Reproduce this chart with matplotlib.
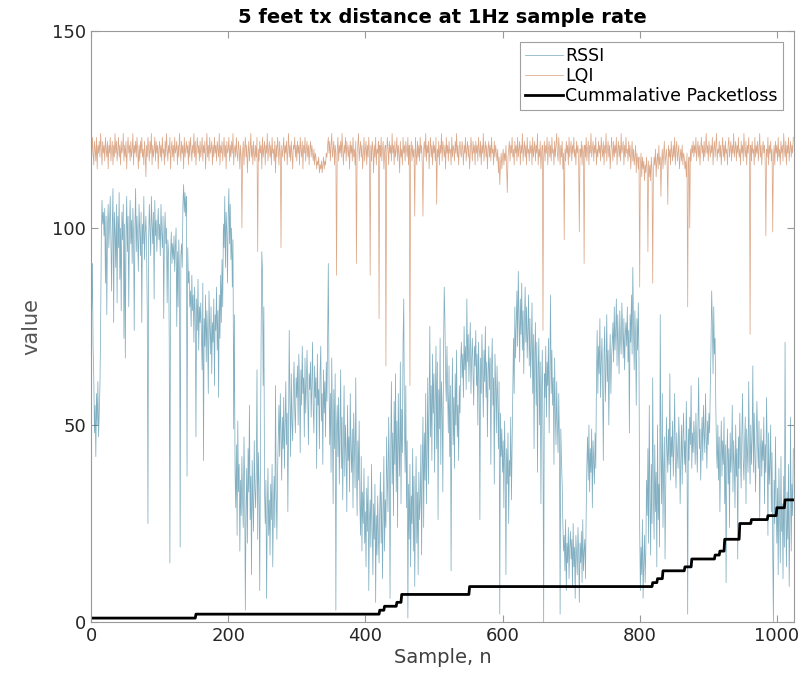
import numpy as np
import matplotlib
matplotlib.use("Agg")
import matplotlib.pyplot as plt

# RSSI per sample (rows of 20 samples)
rssi = [
    88, 79, 91, 70, 62, 48, 55, 42, 58, 50, 61, 47, 53, 60, 75, 97, 107, 101, 104, 98,
    105, 86, 103, 78, 100, 106, 95, 102, 108, 97, 84, 101, 110, 76, 104, 99, 90, 106, 81, 103,
    95, 109, 87, 100, 79, 104, 97, 106, 72, 101, 67, 98, 108, 94, 103, 80, 99, 107, 96, 102,
    91, 105, 98, 74, 100, 110, 94, 103, 97, 89, 106, 99, 93, 104, 76, 101, 96, 108, 92, 99,
    103, 95, 79, 25, 97, 106, 99, 93, 108, 101, 96, 104, 82, 107, 98, 102, 94, 100, 105, 97,
    101, 93, 106, 99, 95, 103, 77, 98, 104, 96, 100, 81, 97, 94, 72, 15, 93, 99, 91, 96,
    92, 98, 89, 95, 100, 75, 94, 80, 97, 88, 19, 93, 96, 90, 106, 111, 104, 109, 103, 108,
    37, 95, 86, 89, 80, 84, 75, 88, 79, 83, 71, 85, 78, 47, 82, 74, 87, 69, 80, 76,
    81, 73, 64, 86, 41, 77, 70, 83, 66, 79, 72, 58, 84, 75, 68, 80, 63, 76, 71, 82,
    60, 78, 74, 85, 69, 79, 57, 83, 72, 88, 76, 92, 80, 101, 95, 108, 90, 104, 99, 86,
    103, 110, 96, 106, 92, 100, 85, 97, 49, 78, 38, 29, 45, 22, 51, 33, 40, 18, 36, 27,
    42, 31, 24, 47, 35, 3, 28, 39, 20, 44, 33, 55, 26, 37, 12, 41, 30, 23, 46, 34,
    29, 38, 64, 21, 43, 35, 8, 40, 72, 94, 89, 60, 80, 33, 25, 36, 6, 28, 39, 22,
    31, 17, 35, 26, 40, 14, 29, 37, 24, 60, 33, 21, 38, 46, 55, 42, 58, 48, 36, 52,
    44, 57, 39, 50, 61, 45, 53, 28, 49, 74, 56, 42, 63, 51, 46, 59, 66, 54, 48, 62,
    57, 65, 50, 68, 60, 43, 64, 55, 70, 58, 62, 47, 67, 53, 61, 69, 56, 45, 63, 59,
    66, 52, 60, 71, 54, 48, 65, 57, 62, 39, 68, 55, 59, 44, 63, 70, 51, 58, 40, 64,
    53, 61, 47, 66, 56, 72, 91, 62, 45, 58, 38, 67, 50, 30, 59, 44, 63, 3, 49, 55,
    42, 57, 35, 48, 64, 39, 52, 31, 46, 60, 37, 50, 43, 28, 55, 41, 47, 33, 58, 44,
    38, 49, 29, 53, 45, 34, 62, 40, 27, 46, 36, 51, 30, 22, 42, 18, 33, 25, 39, 20,
    28, 14, 34, 23, 37, 8, 26, 31, 19, 40, 24, 12, 30, 21, 35, 5, 27, 17, 32, 22,
    15, 29, 38, 20, 33, 11, 26, 42, 18, 31, 24, 47, 36, 28, 52, 39, 6, 44, 61, 35,
    48, 27, 56, 40, 63, 33, 51, 24, 58, 45, 37, 66, 30, 54, 43, 71, 82, 49, 38, 60,
    29, 46, 1, 35, 21, 40, 14, 32, 25, 44, 18, 37, 9, 28, 42, 20, 33, 12, 38, 26,
    31, 45, 17, 39, 52, 24, 48, 36, 58, 30, 43, 62, 35, 55, 75, 47, 60, 41, 68, 53,
    63, 38, 57, 70, 44, 66, 26, 59, 49, 72, 40, 61, 54, 33, 68, 85, 77, 62, 56, 70,
    58, 48, 65, 42, 60, 13, 52, 67, 45, 57, 39, 63, 50, 69, 47, 55, 41, 60, 53, 66,
    71, 62, 68, 57, 75, 64, 70, 59, 82, 66, 73, 61, 69, 76, 58, 67, 72, 63, 55, 70,
    65, 74, 60, 68, 50, 71, 62, 26, 67, 58, 73, 64, 52, 69, 61, 75, 57, 66, 47, 63,
    70, 59, 67, 40, 64, 72, 55, 62, 35, 68, 60, 48, 65, 57, 44, 61, 2, 53, 42, 49,
    38, 46, 29, 51, 40, 12, 44, 35, 48, 25, 41, 37, 52, 31, 45, 60, 72, 58, 80, 67,
    75, 84, 70, 89, 78, 66, 82, 73, 86, 69, 79, 63, 76, 85, 71, 80, 67, 74, 83, 65,
    77, 62, 70, 81, 58, 73, 44, 68, 76, 55, 71, 38, 64, 72, 50, 66, 30, 59, 69, 47,
    0, 63, 57, 70, 52, 66, 60, 72, 48, 64, 83, 58, 69, 55, 62, 40, 67, 53, 45, 61,
    50, 43, 58, 46, 2, 49, 41, 35, 25, 18, 22, 13, 26, 8, 20, 15, 24, 11, 19, 23,
    16, 21, 9, 25, 14, 19, 6, 22, 17, 12, 24, 18, 5, 20, 15, 23, 10, 26, 13, 18,
    21, 11, 28, 40, 47, 36, 50, 33, 44, 38, 49, 29, 46, 41, 35, 48, 39, 62, 74, 58,
    70, 63, 77, 57, 66, 72, 60, 41, 68, 75, 56, 64, 78, 61, 69, 50, 65, 73, 58, 67,
    71, 76, 66, 80, 69, 74, 82, 65, 78, 70, 63, 79, 72, 68, 81, 75, 67, 77, 64, 73,
    76, 70, 80, 66, 74, 48, 78, 71, 83, 68, 90, 75, 64, 79, 72, 55, 77, 69, 81, 67,
    24, 8, 19, 12, 26, 6, 15, 22, 10, 18, 36, 27, 44, 20, 55, 31, 17, 40, 25, 62,
    33, 21, 45, 28, 38, 14, 50, 26, 35, 19, 78, 42, 30, 58, 24, 39, 47, 16, 34, 52,
    44, 38, 49, 40, 63, 36, 47, 42, 51, 37, 45, 58, 41, 34, 48, 43, 39, 52, 46, 30,
    42, 50, 35, 47, 53, 40, 46, 38, 56, 44, 2, 49, 41, 52, 45, 60, 39, 48, 43, 51,
    47, 40, 53, 45, 38, 50, 62, 44, 49, 36, 46, 52, 41, 55, 48, 43, 58, 47, 39, 51,
    45, 53, 48, 60, 70, 84, 76, 63, 80, 68, 72, 55, 44, 39, 50, 36, 47, 28, 42, 51,
    37, 46, 40, 52, 30, 45, 10, 41, 49, 35, 44, 24, 48, 38, 43, 55, 33, 46, 40, 29,
    50, 37, 44, 16, 47, 39, 53, 42, 34, 48, 58, 41, 36, 45, 52, 30, 49, 43, 38, 61,
    44, 35, 50, 40, 47, 65, 38, 53, 42, 33, 48, 56, 45, 39, 51, 26, 43, 49, 37, 46,
    41, 52, 30, 45, 38, 57, 44, 22, 48, 35, 40, 50, 28, 43, 18, 0, 36, 25, 47, 31,
    20, 34, 12, 39, 26, 15, 42, 23, 30, 11, 37, 19, 71, 28, 14, 33, 21, 40, 9, 25,
    52, 18, 35, 27, 44,
]

# LQI per sample (rows of 20 samples)
lqi = [
    121, 118, 123, 119, 116, 122, 120, 117, 123, 115, 121, 119, 122, 118, 124, 120, 116, 122, 119, 121,
    117, 123, 120, 118, 122, 115, 121, 119, 123, 117, 120, 122, 116, 121, 118, 124, 119, 122, 117, 120,
    123, 118, 121, 116, 122, 119, 120, 124, 117, 121, 118, 122, 115, 120, 123, 119, 121, 117, 122, 118,
    120, 124, 116, 121, 119, 122, 118, 123, 120, 115, 121, 117, 122, 119, 123, 118, 120, 116, 122, 119,
    113, 121, 118, 123, 120, 117, 122, 119, 124, 116, 121, 118, 120, 123, 117, 122, 119, 121, 115, 120,
    122, 118, 121, 117, 123, 119, 120, 116, 122, 118, 124, 120, 117, 121, 119, 123, 115, 120, 122, 118,
    121, 117, 123, 119, 120, 122, 116, 121, 118, 124, 120, 117, 122, 119, 121, 115, 123, 118, 120, 122,
    119, 121, 116, 122, 118, 123, 120, 117, 121, 119, 124, 118, 122, 116, 120, 123, 119, 121, 117, 122,
    118, 120, 123, 117, 121, 119, 122, 115, 120, 124, 118, 121, 117, 123, 119, 120, 122, 116, 121, 118,
    123, 119, 121, 117, 122, 120, 118, 124, 116, 121, 119, 122, 117, 120, 123, 118, 121, 115, 122, 119,
    120, 123, 117, 121, 118, 122, 119, 124, 116, 120, 121, 118, 123, 119, 117, 122, 120, 115, 121, 118,
    100, 119, 122, 116, 120, 123, 118, 121, 114, 119, 122, 117, 120, 124, 118, 121, 116, 122, 119, 117,
    121, 118, 123, 94, 120, 117, 122, 119, 121, 115, 123, 118, 120, 122, 116, 121, 119, 124, 117, 120,
    122, 118, 121, 116, 123, 119, 120, 117, 122, 114, 121, 118, 123, 120, 116, 122, 119, 95, 121, 118,
    120, 123, 117, 121, 119, 122, 116, 120, 124, 118, 121, 117, 122, 119, 115, 121, 120, 123, 118, 121,
    117, 122, 119, 121, 116, 123, 120, 118, 122, 115, 121, 119, 123, 117, 120, 122, 118, 121, 116, 120,
    122, 118, 121, 119, 117, 120, 116, 119, 118, 115, 117, 116, 118, 114, 116, 115, 117, 114, 116, 118,
    115, 117, 116, 119, 118, 121, 123, 119, 122, 117, 121, 124, 118, 120, 122, 116, 121, 119, 88, 120,
    123, 117, 121, 119, 122, 118, 124, 120, 116, 121, 119, 123, 117, 122, 120, 118, 121, 115, 122, 119,
    121, 117, 123, 118, 120, 116, 122, 91, 119, 121, 124, 117, 120, 122, 118, 121, 115, 119, 123, 117,
    120, 122, 116, 121, 118, 123, 119, 88, 121, 117, 122, 120, 114, 121, 118, 123, 116, 120, 119, 122,
    77, 121, 118, 123, 117, 120, 122, 115, 119, 121, 65, 118, 123, 120, 116, 122, 119, 121, 117, 124,
    119, 121, 116, 122, 118, 120, 123, 117, 121, 119, 114, 122, 118, 120, 116, 123, 119, 121, 117, 122,
    120, 118, 123, 116, 121, 60, 119, 122, 117, 121, 118, 120, 103, 123, 119, 116, 122, 118, 121, 117,
    123, 119, 121, 116, 103, 120, 122, 118, 124, 117, 121, 119, 122, 115, 120, 123, 118, 121, 116, 122,
    119, 121, 117, 123, 106, 120, 118, 122, 116, 121, 119, 124, 117, 122, 120, 118, 121, 115, 123, 119,
    121, 117, 122, 119, 120, 116, 123, 118, 121, 120, 117, 122, 119, 124, 118, 121, 116, 120, 122, 119,
    118, 122, 120, 116, 121, 119, 123, 117, 120, 122, 118, 121, 115, 119, 123, 120, 117, 122, 119, 121,
    116, 122, 119, 121, 117, 123, 120, 118, 122, 116, 121, 119, 124, 117, 120, 122, 118, 121, 115, 120,
    122, 118, 121, 117, 123, 119, 120, 116, 122, 118, 121, 119, 117, 120, 114, 118, 111, 116, 119, 115,
    118, 120, 116, 119, 117, 121, 115, 109, 118, 120, 122, 117, 121, 119, 123, 118, 120, 116, 122, 119,
    121, 117, 123, 118, 120, 122, 116, 121, 119, 124, 117, 120, 122, 118, 121, 116, 123, 119, 120, 117,
    122, 119, 121, 116, 123, 118, 120, 122, 117, 121, 119, 124, 116, 120, 118, 122, 115, 119, 121, 74,
    118, 122, 117, 121, 119, 123, 116, 120, 122, 118, 121, 117, 123, 119, 120, 116, 122, 118, 121, 124,
    119, 117, 123, 120, 116, 121, 118, 122, 115, 119, 97, 120, 117, 122, 119, 121, 116, 123, 118, 120,
    122, 117, 121, 119, 123, 118, 120, 116, 122, 119, 121, 117, 99, 120, 118, 122, 116, 121, 119, 91,
    121, 118, 123, 117, 120, 122, 116, 121, 119, 124, 118, 120, 122, 117, 121, 119, 123, 116, 120, 118,
    122, 119, 121, 117, 123, 120, 118, 122, 116, 121, 119, 124, 117, 120, 122, 118, 121, 115, 119, 123,
    120, 117, 122, 118, 121, 119, 123, 116, 120, 122, 118, 121, 117, 124, 119, 120, 122, 116, 121, 118,
    123, 119, 120, 117, 122, 118, 121, 115, 119, 122, 117, 120, 116, 118, 121, 114, 119, 117, 115, 118,
    85, 116, 119, 113, 118, 115, 117, 112, 116, 114, 118, 115, 94, 117, 113, 116, 112, 118, 115, 86,
    114, 118, 116, 120, 113, 117, 119, 115, 121, 116, 118, 108, 117, 120, 115, 119, 122, 116, 118, 120,
    117, 106, 121, 118, 120, 116, 122, 119, 117, 121, 118, 123, 116, 120, 122, 117, 119, 121, 115, 118,
    120, 117, 121, 116, 119, 118, 115, 117, 113, 119, 80, 116, 118, 100, 120, 117, 121, 119, 122, 118,
    121, 119, 123, 117, 120, 122, 118, 121, 116, 120, 123, 119, 121, 117, 122, 118, 120, 124, 119, 121,
    117, 122, 120, 118, 121, 119, 123, 116, 120, 122, 118, 121, 124, 117, 120, 119, 122, 118, 121, 116,
    120, 123, 118, 121, 117, 122, 119, 120, 116, 121, 123, 118, 120, 122, 117, 121, 119, 124, 118, 120,
    122, 117, 121, 119, 123, 118, 120, 116, 122, 119, 121, 117, 124, 120, 118, 122, 116, 121, 119, 123,
    118, 73, 121, 117, 122, 119, 120, 116, 123, 118, 121, 119, 122, 117, 120, 124, 118, 121, 116, 120,
    122, 119, 121, 117, 98, 120, 118, 123, 116, 121, 119, 122, 117, 120, 99, 118, 121, 116, 122, 119,
    121, 117, 123, 118, 120, 116, 122, 119, 121, 117, 124, 120, 118, 122, 116, 121, 119, 123, 117, 120,
    122, 118, 121, 119, 123,
]

# Cumulative packet loss: sample index where each level starts, and the level
loss_start = [0, 153, 421, 428, 446, 453, 552, 819, 826, 834, 866, 876, 910, 917, 924, 946, 963, 987, 1000, 1012]
loss_level = [1, 2, 3, 4, 5, 7, 9, 10, 11, 13, 14, 16, 17, 18, 21, 25, 26, 27, 29, 31]

title = "5 feet tx distance at 1Hz sample rate"
xlabel = "Sample, n"
ylabel = "value"
labels = ["RSSI", "LQI", "Cummalative Packetloss"]
xticks = [0, 200, 400, 600, 800, 1000]
yticks = [0, 50, 100, 150]

n = len(rssi)
x = np.arange(n)
bounds = loss_start + [n]
packetloss = np.repeat(loss_level, np.diff(bounds))

fig = plt.figure(figsize=(8.02, 6.81), dpi=100)
ax = fig.add_axes([0.1135, 0.0866, 0.8765, 0.8679])

ax.plot(x, rssi, color="#1a6e8e", alpha=0.55, lw=0.55, label=labels[0])
ax.plot(np.arange(len(lqi)), lqi, color="#c0622a", alpha=0.55, lw=0.55, label=labels[1])
ax.plot(x, packetloss, color="black", lw=2.0, label=labels[2])

ax.set_xlim(0, 1025)
ax.set_ylim(0, 150)
ax.set_xticks(xticks)
ax.set_yticks(yticks)
ax.tick_params(direction="in", top=True, right=True, length=5, width=0.8,
               colors="#999999", labelcolor="#262626", labelsize=13)
for s in ax.spines.values():
    s.set_color("#999999")
    s.set_linewidth(0.8)

ax.set_title(title, fontsize=14, fontweight="bold", color="black", pad=6)
ax.set_xlabel(xlabel, fontsize=14, color="#404040", labelpad=2)
ax.set_ylabel(ylabel, fontsize=15, color="#555555", labelpad=8)

leg = ax.legend(loc="upper right", bbox_to_anchor=(0.984, 0.981), fontsize=12.5,
                frameon=True, fancybox=False, handlelength=2.2, handletextpad=0.1,
                borderpad=0.3, labelspacing=0.1, borderaxespad=0.0)
leg.get_frame().set_edgecolor("#888888")
leg.get_frame().set_linewidth(0.8)

fig.savefig("out.png", dpi=100)
